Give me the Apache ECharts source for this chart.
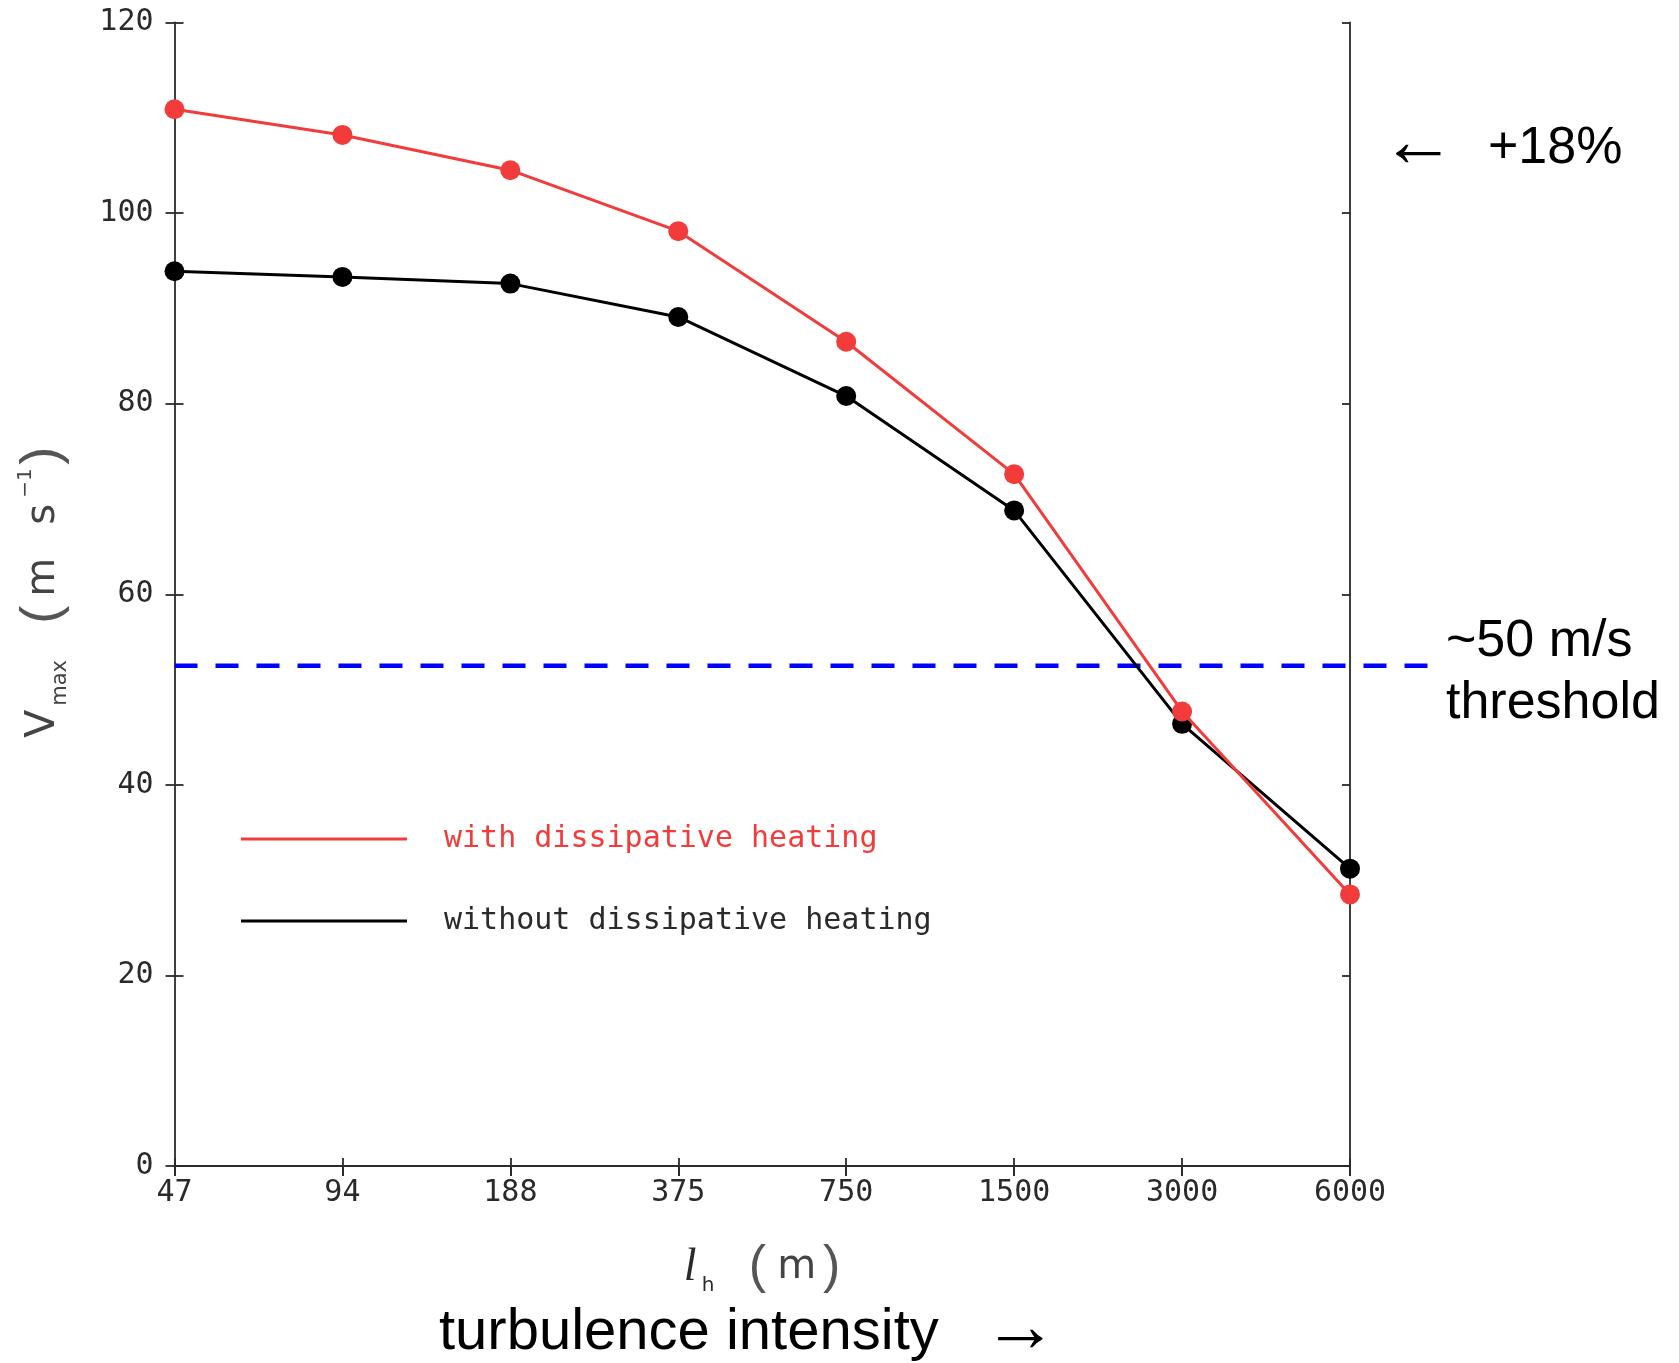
<!DOCTYPE html>
<html>
<head>
<meta charset="utf-8">
<script src="https://cdn.jsdelivr.net/npm/echarts@6/dist/echarts.min.js"></script>
<style>
html,body{margin:0;padding:0;background:#fff;}
#chart{width:1679px;height:1363px;}
</style>
</head>
<body>
<div id="chart"></div>
<script>
// ---- data ----
const categories = ['47', '94', '188', '375', '750', '1500', '3000', '6000'];
const withHeating = [110.9, 108.2, 104.5, 98.1, 86.5, 72.6, 47.7, 28.5];
const withoutHeating = [93.9, 93.3, 92.6, 89.1, 80.8, 68.8, 46.4, 31.2];
const thresholdEnds = ['start', 'end'];
const thresholdLine = [52.5, 52.5];
const yMin = 0, yMax = 120, yStep = 20;
const seriesNames = ['with dissipative heating', 'without dissipative heating'];

// ---- styles ----
const RED = '#f23c3c';
const INK = '#2a2a2a';
const SOFT = '#444';
const MONO = 'DejaVu Sans Mono';
const gridRect = { left: 174.5, right: 329, top: 22.5, bottom: 197 };

const chart = echarts.init(document.getElementById('chart'), null, { renderer: 'canvas' });

const option = {
  backgroundColor: '#fff',
  animation: false,
  grid: [
    Object.assign({ outerBoundsMode: 'none' }, gridRect),
    Object.assign({ outerBoundsMode: 'none' }, gridRect),
    { outerBoundsMode: 'none', left: 174.5, right: 249, top: 22.5, bottom: 197 }
  ],
  xAxis: [
    {
      gridIndex: 0, type: 'category', data: categories, boundaryGap: false, position: 'bottom',
      axisLine: { show: true, lineStyle: { color: INK, width: 1.8 } },
      axisTick: { show: true, inside: false, length: 10, lineStyle: { color: INK, width: 1.8 } },
      axisLabel: { color: INK, fontFamily: MONO, fontSize: 30, margin: 12 },
      splitLine: { show: false },
      name: '{l|l}{h|h}{lp|(}{m|m}{rp|)}',
      nameLocation: 'middle', nameGap: 74,
      nameTextStyle: {
        rich: {
          l: { fontFamily: 'Liberation Serif', fontStyle: 'italic', fontSize: 46, color: INK, width: 18, lineHeight: 56, align: 'left' },
          h: { fontFamily: 'DejaVu Sans', fontSize: 20, color: INK, width: 47, lineHeight: 36, verticalAlign: 'bottom', align: 'left' },
          lp: { fontFamily: 'Liberation Sans', fontSize: 52, color: '#555', width: 22, lineHeight: 56, align: 'left' },
          m: { fontFamily: 'DejaVu Sans', fontSize: 40, color: SOFT, width: 52, lineHeight: 56, align: 'center' },
          rp: { fontFamily: 'Liberation Sans', fontSize: 52, color: '#555', width: 18, lineHeight: 56, align: 'left' }
        }
      }
    },
    {
      gridIndex: 0, type: 'category', data: categories, boundaryGap: false, position: 'top',
      axisLine: { show: true, lineStyle: { color: INK, width: 1.8 } },
      axisTick: { show: true, inside: true, length: 10, lineStyle: { color: INK, width: 1.8 } },
      axisLabel: { show: false }, splitLine: { show: false }
    },
    {
      gridIndex: 1, type: 'category', data: categories, boundaryGap: false, position: 'bottom',
      axisLine: { show: false },
      axisTick: { show: true, inside: true, length: 8, lineStyle: { color: INK, width: 1.8 } },
      axisLabel: { show: false }, splitLine: { show: false }
    },
    {
      gridIndex: 2, type: 'category', data: thresholdEnds, boundaryGap: false, show: false
    }
  ],
  yAxis: [
    {
      gridIndex: 0, type: 'value', min: yMin, max: yMax, interval: yStep, position: 'left',
      axisLine: { show: true, lineStyle: { color: INK, width: 1.8 } },
      axisTick: { show: true, inside: false, length: 9, lineStyle: { color: INK, width: 1.8 } },
      axisLabel: { color: INK, fontFamily: MONO, fontSize: 30, margin: 21 },
      splitLine: { show: false },
      name: '{v|V}{sub|max}{lp|(}{m|m}{s|s}{sup|−1}{rp|)}',
      nameLocation: 'middle', nameRotate: 90, nameGap: 103,
      nameTextStyle: {
        rich: {
          v: { fontFamily: 'DejaVu Sans', fontSize: 41, color: SOFT, width: 32, lineHeight: 56, align: 'left' },
          sub: { fontFamily: 'DejaVu Sans', fontSize: 21, color: SOFT, width: 82, lineHeight: 22, verticalAlign: 'bottom', align: 'left' },
          lp: { fontFamily: 'Liberation Sans', fontSize: 54, color: '#555', width: 27, lineHeight: 56, align: 'left' },
          m: { fontFamily: 'DejaVu Sans', fontSize: 40, color: SOFT, width: 72, lineHeight: 56, align: 'left' },
          s: { fontFamily: 'DejaVu Sans', fontSize: 40, color: SOFT, width: 27, lineHeight: 56, align: 'left' },
          sup: { fontFamily: 'DejaVu Sans', fontSize: 20, color: SOFT, width: 33, lineHeight: 30, verticalAlign: 'top', align: 'left' },
          rp: { fontFamily: 'Liberation Sans', fontSize: 54, color: '#555', width: 14, lineHeight: 56, align: 'left' }
        }
      }
    },
    {
      gridIndex: 0, type: 'value', min: yMin, max: yMax, interval: yStep, position: 'right',
      axisLine: { show: true, lineStyle: { color: INK, width: 1.8 } },
      axisTick: { show: true, inside: true, length: 8, lineStyle: { color: INK, width: 1.8 } },
      axisLabel: { show: false }, splitLine: { show: false }
    },
    {
      gridIndex: 1, type: 'value', min: yMin, max: yMax, interval: yStep, position: 'left',
      axisLine: { show: false },
      axisTick: { show: true, inside: true, length: 9, lineStyle: { color: INK, width: 1.8 } },
      axisLabel: { show: false }, splitLine: { show: false }
    },
    {
      gridIndex: 2, type: 'value', min: yMin, max: yMax, show: false
    }
  ],
  legend: {
    orient: 'vertical', left: 236, top: 814,
    icon: 'rect', itemWidth: 166, itemHeight: 3, itemGap: 42,
    selectedMode: false,
    textStyle: { fontFamily: MONO, fontSize: 30, lineHeight: 40, padding: [0, 0, 0, 32] },
    data: [
      { name: seriesNames[0], textStyle: { color: RED } },
      { name: seriesNames[1], textStyle: { color: INK } }
    ]
  },
  series: [
    {
      name: 'threshold', type: 'line', xAxisIndex: 3, yAxisIndex: 3, data: thresholdLine,
      symbol: 'none', z: 1,
      lineStyle: { color: '#0000ff', width: 4.5, type: [23, 18] }
    },
    {
      name: seriesNames[1], type: 'line', xAxisIndex: 0, yAxisIndex: 0, data: withoutHeating,
      symbol: 'circle', symbolSize: 20, color: '#000',
      lineStyle: { color: '#000', width: 3 }, itemStyle: { color: '#000' }, z: 3
    },
    {
      name: seriesNames[0], type: 'line', xAxisIndex: 0, yAxisIndex: 0, data: withHeating,
      symbol: 'circle', symbolSize: 20, color: RED,
      lineStyle: { color: RED, width: 3 }, itemStyle: { color: RED }, z: 4
    }
  ],
  graphic: [
    { type: 'text', x: 1381, y: 145, style: { text: '←', fontFamily: 'Liberation Sans', fontSize: 75, fill: '#000', align: 'left', verticalAlign: 'middle' } },
    { type: 'text', x: 1488, y: 149, style: { text: '+18%', fontFamily: 'Liberation Sans', fontSize: 52, fill: '#000', align: 'left', verticalAlign: 'middle' } },
    { type: 'text', x: 1446, y: 642, style: { text: '~50 m/s', fontFamily: 'Liberation Sans', fontSize: 52, fill: '#000', align: 'left', verticalAlign: 'middle' } },
    { type: 'text', x: 1446, y: 704, style: { text: 'threshold', fontFamily: 'Liberation Sans', fontSize: 52, fill: '#000', align: 'left', verticalAlign: 'middle' } },
    { type: 'text', x: 439, y: 1333, style: { text: 'turbulence intensity', fontFamily: 'Liberation Sans', fontSize: 58, fill: '#000', align: 'left', verticalAlign: 'middle' } },
    { type: 'text', x: 983, y: 1330, style: { text: '→', fontFamily: 'Liberation Sans', fontSize: 75, fill: '#000', align: 'left', verticalAlign: 'middle' } }
  ]
};
chart.setOption(option);
</script>
</body>
</html>
